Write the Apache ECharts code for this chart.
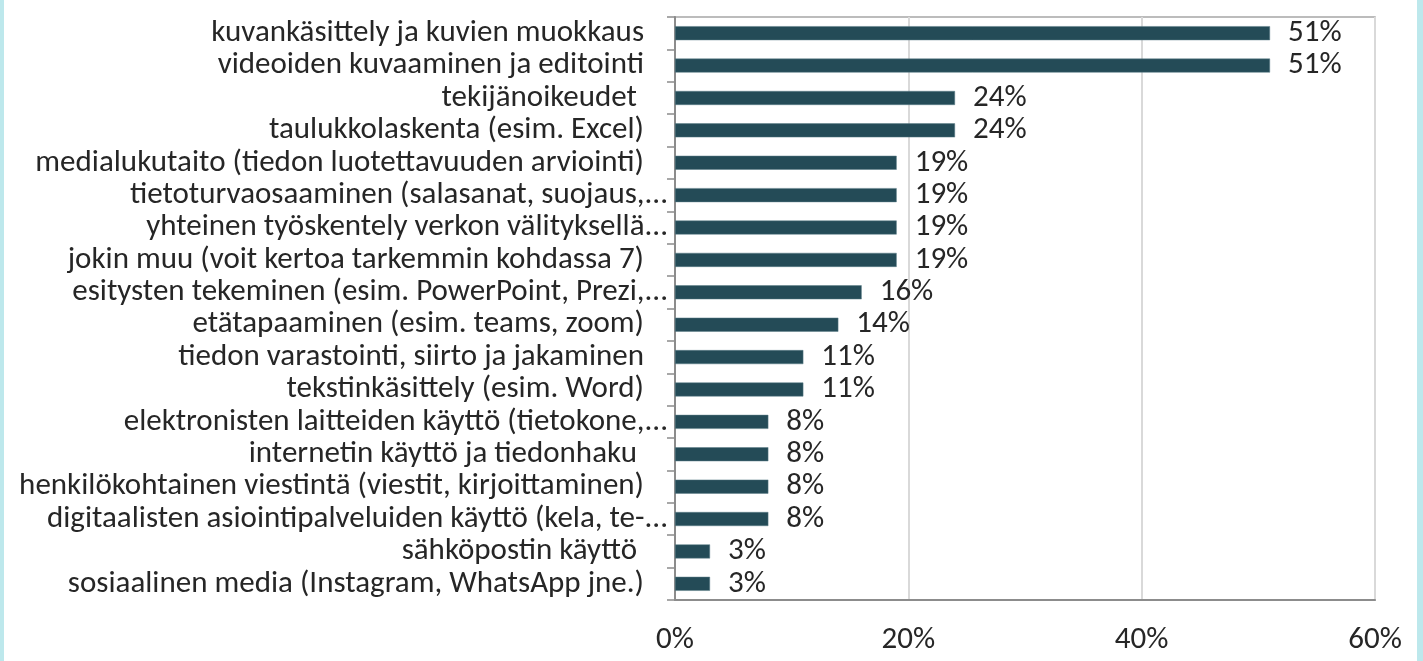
<!DOCTYPE html>
<html><head><meta charset="utf-8">
<script src="https://cdn.jsdelivr.net/npm/echarts@6/dist/echarts.min.js"></script>
<style>
html,body{margin:0;padding:0;background:#bde8ec;width:1423px;height:661px;overflow:hidden}
#chart{position:absolute;left:4px;top:0;width:1413px;height:661px;background:#fff}
</style></head>
<body><div id="chart"></div>
<script>
const categories = [
  "kuvankäsittely ja kuvien muokkaus",
  "videoiden kuvaaminen ja editointi",
  "tekijänoikeudet ",
  "taulukkolaskenta (esim. Excel)",
  "medialukutaito (tiedon luotettavuuden arviointi)",
  "tietoturvaosaaminen (salasanat, suojaus,...",
  "yhteinen työskentely verkon välityksellä...",
  "jokin muu (voit kertoa tarkemmin kohdassa 7)",
  "esitysten tekeminen (esim. PowerPoint, Prezi,...",
  "etätapaaminen (esim. teams, zoom)",
  "tiedon varastointi, siirto ja jakaminen",
  "tekstinkäsittely (esim. Word)",
  "elektronisten laitteiden käyttö (tietokone,...",
  "internetin käyttö ja tiedonhaku ",
  "henkilökohtainen viestintä (viestit, kirjoittaminen)",
  "digitaalisten asiointipalveluiden käyttö (kela, te-...",
  "sähköpostin käyttö ",
  "sosiaalinen media (Instagram, WhatsApp jne.)"
];
const values = [51, 51, 24, 24, 19, 19, 19, 19, 16, 14, 11, 11, 8, 8, 8, 8, 3, 3];
const xTicks = [0, 20, 40, 60];

const FONT = 'Carlito, Calibri, "Noto Sans", sans-serif';
const chart = echarts.init(document.getElementById('chart'), null, {renderer: 'canvas'});
chart.setOption({
  animation: false,
  backgroundColor: '#ffffff',
  grid: {left: 671, right: 42, top: 17, bottom: 61, show: true, borderColor: '#a6a6a6', borderWidth: 1.5, containLabel: false},
  xAxis: {
    type: 'value', min: xTicks[0], max: xTicks[xTicks.length - 1], interval: 20,
    axisLine: {show: true, lineStyle: {color: '#8c8c8c', width: 2}},
    axisTick: {show: false},
    splitLine: {show: true, lineStyle: {color: '#d9d9d9', width: 2}},
    axisLabel: {formatter: v => v + '%', fontFamily: FONT, fontSize: 31, color: '#262626', margin: 25}
  },
  yAxis: {
    type: 'category', data: categories, inverse: true,
    axisLine: {show: true, lineStyle: {color: '#8c8c8c', width: 2}},
    axisTick: {show: true, length: 8, interval: 0, lineStyle: {color: '#8c8c8c', width: 1.5}},
    axisLabel: {
      interval: 0,
      fontFamily: FONT, fontSize: 31, color: '#262626', margin: 7,
      formatter: v => /\.\.\.$/.test(v) ? v : '{p|' + v + '}',
      rich: {p: {fontFamily: FONT, fontSize: 31, color: '#262626', padding: [0, 24, 0, 0]}}
    }
  },
  series: [{
    type: 'bar', data: values, barWidth: 14,
    itemStyle: {color: '#244b57', borderColor: '#5d7f89', borderWidth: 0.5},
    label: {show: true, position: 'right', distance: 18, formatter: p => p.value + '%', fontFamily: FONT, fontSize: 31, color: '#262626'}
  }]
});
</script></body></html>
